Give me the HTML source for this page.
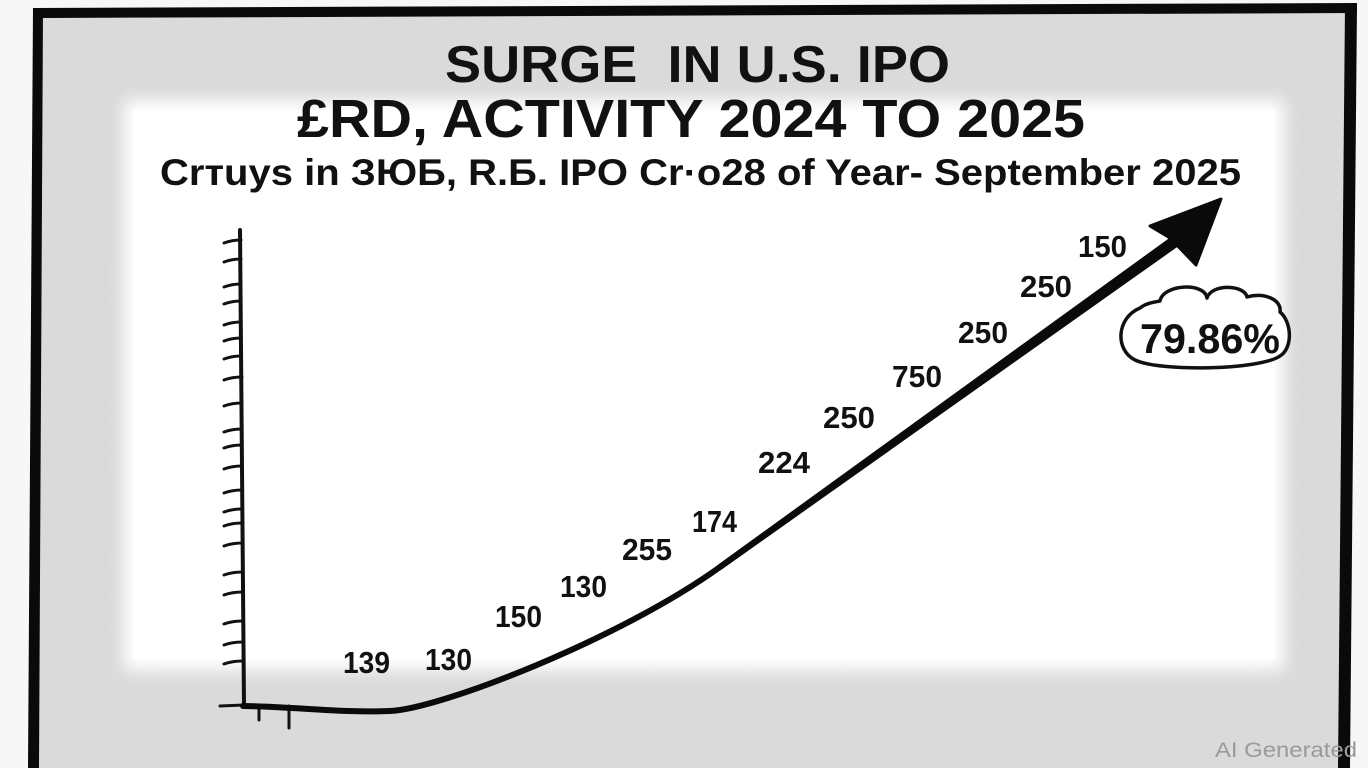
<!DOCTYPE html>
<html>
<head>
<meta charset="utf-8">
<style>
html,body{margin:0;padding:0;background:#f6f6f6;}
body{width:1368px;height:768px;overflow:hidden;}
svg{display:block;}
text{font-family:"Liberation Sans","DejaVu Sans",sans-serif;}
</style>
</head>
<body>
<svg width="1368" height="768" viewBox="0 0 1368 768" xmlns="http://www.w3.org/2000/svg">
  <defs>
    <filter id="blur" x="-5%" y="-5%" width="110%" height="110%">
      <feGaussianBlur stdDeviation="8"/>
    </filter>
    <filter id="noise" x="0" y="0" width="100%" height="100%">
      <feTurbulence type="fractalNoise" baseFrequency="0.9" numOctaves="2" seed="3" result="n"/>
      <feColorMatrix type="matrix" values="0 0 0 0 0.72  0 0 0 0 0.72  0 0 0 0 0.72  0 0 0 0.9 -0.25" result="c"/>
      <feComposite in="c" in2="SourceGraphic" operator="in"/>
    </filter>
  </defs>

  <!-- outside background -->
  <rect x="0" y="0" width="1368" height="768" fill="#f7f7f7"/>

  <!-- inner gray textured area -->
  <polygon points="38,13 1350,9 1344,768 34,768" fill="#dadada"/>
  <polygon points="38,13 1350,9 1344,768 34,768" fill="#dadada" filter="url(#noise)" opacity="0.6"/>

  <!-- white inner region -->
  <rect x="124" y="100" width="1160" height="570" rx="6" fill="#ffffff" filter="url(#blur)"/>
  <rect x="134" y="110" width="1140" height="550" fill="#ffffff"/>

  <!-- frame -->
  <polygon points="33,8 1357,3 1357,13 43,18" fill="#0a0a0a"/>
  <polygon points="33,8 43,8 39,768 28,768" fill="#0a0a0a"/>
  <polygon points="1345,5 1357,5 1350,768 1338,768" fill="#0a0a0a"/>

  <!-- titles -->
  <text x="445" y="82" font-size="52" font-weight="bold" fill="#111" textLength="505" lengthAdjust="spacingAndGlyphs" xml:space="preserve">SURGE  IN U.S. IPO</text>
  <text x="297" y="137" font-size="54" font-weight="bold" fill="#111" textLength="788" lengthAdjust="spacingAndGlyphs">£RD, ACTIVITY 2024 TO 2025</text>
  <text x="160" y="185" font-size="37" font-weight="bold" fill="#111" textLength="1081" lengthAdjust="spacingAndGlyphs">Crтuys in ЗЮБ, R.Б. IPO Cr·o28 of Year- September 2025</text>

  <!-- y axis -->
  <line x1="240" y1="230" x2="244" y2="706" stroke="#111" stroke-width="4" stroke-linecap="round"/>
  <g stroke="#111" stroke-width="3" stroke-linecap="round" fill="none">
    <path d="M224,243 Q232,240 241,240"/>
    <path d="M224,262 Q232,259 241,259"/>
    <path d="M224,287 Q232,284 241,284"/>
    <path d="M224,304 Q232,301 241,301"/>
    <path d="M224,325 Q232,322 241,322"/>
    <path d="M224,341 Q232,338 241,338"/>
    <path d="M224,359 Q232,356 241,356"/>
    <path d="M224,380 Q232,377 242,377"/>
    <path d="M224,406 Q232,403 242,403"/>
    <path d="M224,432 Q232,429 242,429"/>
    <path d="M224,448 Q232,445 242,445"/>
    <path d="M224,469 Q232,466 242,466"/>
    <path d="M224,493 Q232,490 242,490"/>
    <path d="M224,512 Q232,509 242,509"/>
    <path d="M224,526 Q232,523 242,523"/>
    <path d="M224,546 Q232,543 243,543"/>
    <path d="M224,575 Q232,572 243,572"/>
    <path d="M224,595 Q232,592 243,592"/>
    <path d="M224,624 Q232,621 243,621"/>
    <path d="M224,645 Q232,642 243,642"/>
    <path d="M224,664 Q232,661 243,661"/>
    <!-- bottom -->
    <path d="M220,706 L244,705"/>
    <path d="M259,706 L259,720"/>
    <path d="M289,706 L289,728"/>
  </g>

  <!-- curve -->
  <path d="M243,706 C300,707 340,713 390,711 C440,709 620,639 720,567" fill="none" stroke="#0a0a0a" stroke-width="6" stroke-linecap="round" stroke-linejoin="round"/>
  <polygon points="718.25,564.56 1182.5,228.5 1189.5,238.3 721.75,569.44" fill="#0a0a0a"/>
  <!-- arrowhead -->
  <polygon points="1221,199 1150,226 1170,238 1196,265" fill="#0a0a0a" stroke="#0a0a0a" stroke-width="3" stroke-linejoin="round"/>

  <!-- data labels -->
  <g font-size="31" font-weight="bold" fill="#111">
    <text x="343" y="673" textLength="47" lengthAdjust="spacingAndGlyphs">139</text>
    <text x="425" y="670" textLength="47" lengthAdjust="spacingAndGlyphs">130</text>
    <text x="495" y="627" textLength="47" lengthAdjust="spacingAndGlyphs">150</text>
    <text x="560" y="597" textLength="47" lengthAdjust="spacingAndGlyphs">130</text>
    <text x="622" y="560" textLength="50" lengthAdjust="spacingAndGlyphs">255</text>
    <text x="692" y="532" textLength="45" lengthAdjust="spacingAndGlyphs">174</text>
    <text x="758" y="473" textLength="52" lengthAdjust="spacingAndGlyphs">224</text>
    <text x="823" y="428" textLength="52" lengthAdjust="spacingAndGlyphs">250</text>
    <text x="892" y="387" textLength="50" lengthAdjust="spacingAndGlyphs">750</text>
    <text x="958" y="343" textLength="50" lengthAdjust="spacingAndGlyphs">250</text>
    <text x="1020" y="297" textLength="52" lengthAdjust="spacingAndGlyphs">250</text>
    <text x="1078" y="257" textLength="49" lengthAdjust="spacingAndGlyphs">150</text>
  </g>

  <!-- cloud -->
  <path d="M1160,301 C1163,284 1205,282 1207,298 C1212,283 1245,285 1247,297 C1265,292 1282,300 1280,312 C1292,322 1293,348 1280,356 C1260,370 1160,372 1135,360 C1115,350 1116,318 1140,308 C1146,303 1155,302 1160,301 Z" fill="#ffffff" stroke="#111" stroke-width="3.5" stroke-linejoin="round"/>
  <text x="1140" y="353" font-size="42" font-weight="bold" fill="#111" textLength="140" lengthAdjust="spacingAndGlyphs">79.86%</text>

  <!-- watermark -->
  <text x="1215" y="757" font-size="21" fill="#9a9a9a" textLength="142" lengthAdjust="spacingAndGlyphs">AI Generated</text>
</svg>
</body>
</html>
